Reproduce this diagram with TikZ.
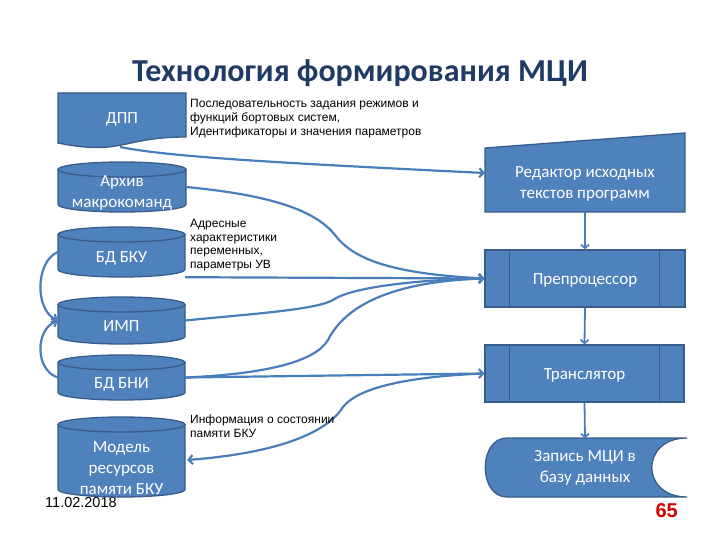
\documentclass[tikz,border=0pt]{standalone}
\usepackage{fontspec}
\setmainfont{Liberation Sans}
\newfontfamily\carlito{Carlito}
\usetikzlibrary{arrows.meta,calc}
\definecolor{boxfill}{HTML}{4F81BD}
\definecolor{boxline}{HTML}{385D8A}
\definecolor{conn}{HTML}{4A7EBB}
\definecolor{titleblue}{HTML}{1F3A64}
\definecolor{pagered}{HTML}{D00000}
\tikzset{
  shapefill/.style={fill=boxfill, draw=boxline, line width=1.3pt},
  intext/.style={text=white, font=\carlito\fontsize{17}{21}\selectfont, align=center, inner sep=0pt},
  lowtext/.style={text height=15pt, text depth=3pt},
  area/.style={draw=none, inner sep=0pt},
  conline/.style={draw=conn, line width=2.2pt, -{Straight Barb[length=4pt,width=9pt]}},
  vline/.style={draw=conn, line width=1.8pt, -{Straight Barb[length=3.5pt,width=8pt]}},
  note/.style={font=\fontsize{12}{13.6}\selectfont, align=left, anchor=north west, inner sep=0pt},
}
\newcommand{\cylbody}[4]{%
  \filldraw[shapefill] (#1,#3+7.5) -- (#1,#4-7.5) arc[start angle=180,end angle=0,x radius={(#2-#1)/2},y radius=7.5] -- (#2,#3+7.5) -- cycle;
  \filldraw[shapefill] ({(#1+#2)/2},#3+7.5) ellipse[x radius={(#2-#1)/2}, y radius=7.5];
}
\begin{document}
\begin{tikzpicture}[x=1pt,y=-1pt]
\useasboundingbox (0,0) rectangle (720,540);
\fill[white] (0,0) rectangle (720,540);

% title
\node[font=\carlito\bfseries\fontsize{32}{38}\selectfont, text=titleblue, anchor=base] (title) at (360,82) {Технология формирования МЦИ};

% date (partly hidden behind the cylinder)
\node[font=\fontsize{14.5}{16}\selectfont, anchor=base west, inner sep=0pt] (date) at (45,507) {11.02.2018};

% ДПП document shape
\filldraw[shapefill] (58,93) -- (186,93) -- (186,137) .. controls (122,137) and (122,156) .. (58,143) -- cycle;
\node[intext] (dpp) at (122,119) {ДПП};
\coordinate (dppb) at (120,147);

% cylinders
\cylbody{58}{186}{162}{212}
\node[area, minimum width=128, minimum height=50] (arch) at (122,187) {};
\node[intext] (archlbl) at (122,193) {Архив\\макрокоманд};

\cylbody{58}{185}{227}{277}
\node[area, minimum width=127, minimum height=50] (bku) at (121.5,252) {};
\node[intext] (bkulbl) at (121.5,258) {БД БКУ};

\cylbody{58}{185}{297}{344}
\node[area, minimum width=127, minimum height=47] (imp) at (121.5,320.5) {};
\node[intext] (implbl) at (121.5,326) {ИМП};

\cylbody{58}{185}{355}{400}
\node[area, minimum width=127, minimum height=45] (bni) at (121.5,377.5) {};
\node[intext] (bnilbl) at (121.5,384) {БД БНИ};

\cylbody{58}{185}{417}{497}
\node[area, minimum width=127, minimum height=80] (model) at (121.5,457) {};
\node[intext] (modellbl) at (121.5,468) {Модель\\ресурсов\\памяти БКУ};

% right column
\filldraw[shapefill] (485,148) -- (685,133) -- (685,212) -- (485,212) -- cycle;
\node[intext, minimum width=200, minimum height=62] (ed) at (585,181) {};
\node[intext] (edlbl) at (585,183.5) {Редактор исходных\\текстов программ};

\node[shapefill, intext, lowtext, minimum width=200, minimum height=57] (pre) at (585,278.5) {Препроцессор};
\draw[boxline, line width=1.3pt] ($(pre.north west)+(25,0)$) -- ($(pre.south west)+(25,0)$);
\draw[boxline, line width=1.3pt] ($(pre.north east)+(-26,0)$) -- ($(pre.south east)+(-26,0)$);

\node[shapefill, intext, lowtext, minimum width=199, minimum height=57] (tr) at (584.5,373.5) {Транслятор};
\draw[boxline, line width=1.3pt] ($(tr.north west)+(25,0)$) -- ($(tr.south west)+(25,0)$);
\draw[boxline, line width=1.3pt] ($(tr.north east)+(-25,0)$) -- ($(tr.south east)+(-25,0)$);

\filldraw[shapefill] (507,438) -- (687,438) .. controls (640,438) and (640,497) .. (687,497) -- (507,497) .. controls (478,497) and (478,438) .. (507,438) -- cycle;
\node[intext, minimum width=200, minimum height=59] (zap) at (585,468) {Запись МЦИ в\\базу данных};

% vertical arrows
\draw[vline] (ed.south) -- (pre.north);
\draw[vline] (pre.south) -- (tr.north);
\draw[vline] (tr.south) -- (zap.north);

% connectors
\draw[conline] (dppb) .. controls (170,157) and (280,163) .. ($(ed.west)+(0,-8)$);
\draw[conline] (arch.east) .. controls (270,195) and (315,210) .. (335,235) .. controls (355,262) and (400,274) .. (pre.west);
\draw[conline] (bku.south east) -- (pre.west);
\draw[conline] (imp.east) .. controls (250,314) and (315,310) .. (333,300) .. controls (350,288) and (410,280) .. (pre.west);
\draw[conline] (bni.east) .. controls (265,374) and (315,362) .. (328,340) .. controls (342,312) and (380,282) .. (pre.west);
\draw[conline] (bni.east) -- (tr.west);
\draw[conline] (tr.west) .. controls (420,376) and (360,385) .. (343,407) .. controls (330,428) and (290,452) .. ($(model.east)+(2,3)$);

% left arcs
\draw[conline] (bku.west) .. controls (35,262) and (35,310) .. (imp.west);
\draw[conline] (bni.west) .. controls (35,370) and (35,330) .. (imp.west);

% notes
\node[note] (n1) at (190,99.5) {Последовательность задания режимов и\\функций бортовых систем,\\Идентификаторы и значения параметров};
\node[note] (n2) at (190,219) {Адресные\\характеристики\\переменных,\\параметры УВ};
\node[note] (n3) at (190,415) {Информация о состоянии\\памяти БКУ};

% page number
\node[font=\bfseries\fontsize{20}{22}\selectfont, text=pagered, anchor=base east, inner sep=0pt] (pg) at (678,517) {65};
\end{tikzpicture}
\end{document}
